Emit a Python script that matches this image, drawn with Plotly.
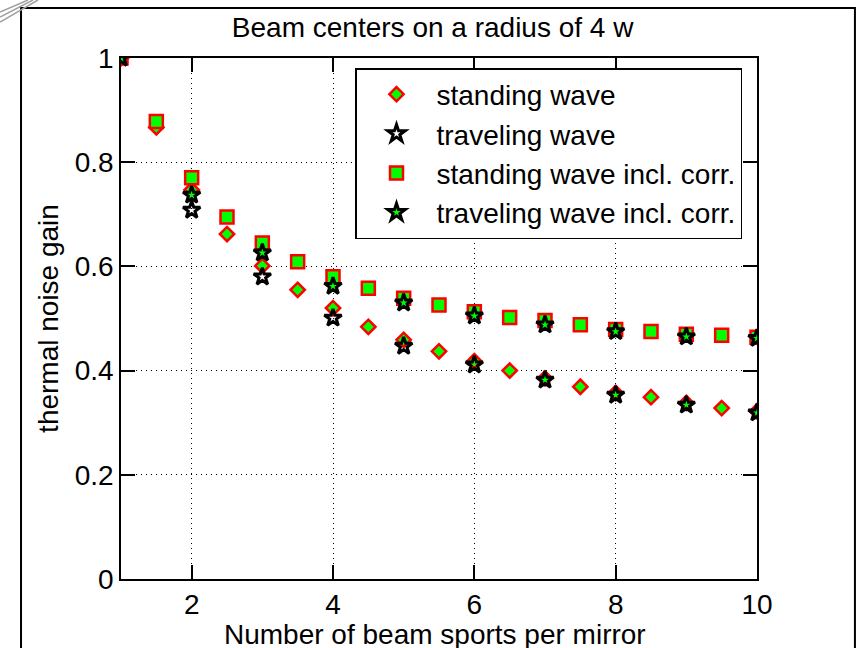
import plotly.graph_objects as go

# Number of beam spots per mirror
x_half = [1, 1.5, 2, 2.5, 3, 3.5, 4, 4.5, 5, 5.5, 6, 6.5, 7, 7.5, 8, 8.5, 9, 9.5, 10]
x_int = [1, 2, 3, 4, 5, 6, 7, 8, 9, 10]

# Thermal noise gain for each configuration
standing = [1.0, 0.867, 0.747, 0.662, 0.601, 0.555, 0.520, 0.484, 0.459, 0.437,
            0.418, 0.400, 0.385, 0.369, 0.357, 0.349, 0.338, 0.328, 0.322]
traveling = [1.0, 0.708, 0.580, 0.501, 0.447, 0.411, 0.382, 0.353, 0.334, 0.319]
standing_corr = [1.0, 0.878, 0.770, 0.695, 0.645, 0.609, 0.580, 0.558, 0.539, 0.526,
                 0.513, 0.502, 0.496, 0.488, 0.479, 0.475, 0.470, 0.468, 0.464]
traveling_corr = [1.0, 0.737, 0.626, 0.562, 0.530, 0.505, 0.488, 0.475, 0.465, 0.462]

x_ticks = [2, 4, 6, 8, 10]
y_ticks = [0, 0.2, 0.4, 0.6, 0.8, 1]
y_tick_text = ["0", "0.2", "0.4", "0.6", "0.8", "1"]

RED = "#ff0000"
GREEN = "#00ff00"
FONT = "Arial, Liberation Sans, sans-serif"
FS = 28

fig = go.Figure()
fig.add_trace(go.Scatter(
    x=x_half, y=standing, mode="markers", name="standing wave",
    marker=dict(symbol="diamond", size=11, color=GREEN, line=dict(color=RED, width=2.5))))
fig.add_trace(go.Scatter(
    x=x_int, y=traveling, mode="markers", name="traveling wave",
    marker=dict(symbol="star", size=13, color="rgba(0,0,0,0)", line=dict(color="black", width=3))))
fig.add_trace(go.Scatter(
    x=x_half, y=standing_corr, mode="markers", name="standing wave incl. corr.",
    marker=dict(symbol="square", size=13, color=GREEN, line=dict(color=RED, width=2.5))))
fig.add_trace(go.Scatter(
    x=x_int, y=traveling_corr, mode="markers", name="traveling wave incl. corr.",
    marker=dict(symbol="star", size=13, color=GREEN, line=dict(color="black", width=3))))

axis_common = dict(
    showline=True, linecolor="black", linewidth=1.5, mirror="ticks",
    ticks="inside", ticklen=14, tickwidth=1.5, tickcolor="black",
    showgrid=True, gridcolor="black", gridwidth=1, griddash="1px,4px",
    zeroline=False, automargin=False,
    tickfont=dict(family=FONT, size=FS, color="black"),
)

fig.update_xaxes(range=[1, 10], tickvals=x_ticks, **axis_common)
fig.update_yaxes(range=[0, 1], tickvals=y_ticks, ticktext=y_tick_text,
                 title=dict(text="thermal noise gain",
                            font=dict(family=FONT, size=FS, color="black"), standoff=8),
                 **axis_common)

# x-axis label sits just above the lower edge of the figure
fig.add_annotation(text="Number of beam sports per mirror", xref="paper", yref="paper",
                   x=(435 - 121) / 636, y=(579 - 634) / 521, xanchor="center", yanchor="middle",
                   showarrow=False, font=dict(family=FONT, size=FS, color="black"))

# Outer figure frame and the corner shading
shapes = [
    dict(type="rect", xref="paper", yref="paper", x0=-0.1572, x1=1.154, y0=-0.2, y1=1.096,
         line=dict(color="black", width=2), fillcolor="rgba(0,0,0,0)", layer="below"),
]
for off in [0, 5, 10]:
    shapes.append(dict(type="line", xref="paper", yref="paper",
                       x0=(0 - 121) / 636, y0=(579 - (12 + off)) / 521,
                       x1=(28 + off - 121) / 636, y1=(579 - 0) / 521,
                       line=dict(color="#a0a0a0", width=1.5)))

fig.update_layout(
    width=861, height=648,
    margin=dict(l=121, r=104, t=58, b=69),
    paper_bgcolor="white", plot_bgcolor="white",
    font=dict(family=FONT, size=FS, color="black"),
    title=dict(text="Beam centers on a radius of 4 w", x=0.49, xref="paper", xanchor="center",
               y=1 - 27 / 648, yref="container", yanchor="middle", automargin=False,
               font=dict(family=FONT, size=FS, color="black")),
    legend=dict(x=(355 - 121) / 636, y=(579 - 68) / 521, xanchor="left", yanchor="top",
                bgcolor="white", bordercolor="black", borderwidth=1.5,
                itemwidth=70, font=dict(family=FONT, size=FS, color="black"),
                tracegroupgap=0),
    shapes=shapes,
    showlegend=True,
)

fig.write_html("out.html")
